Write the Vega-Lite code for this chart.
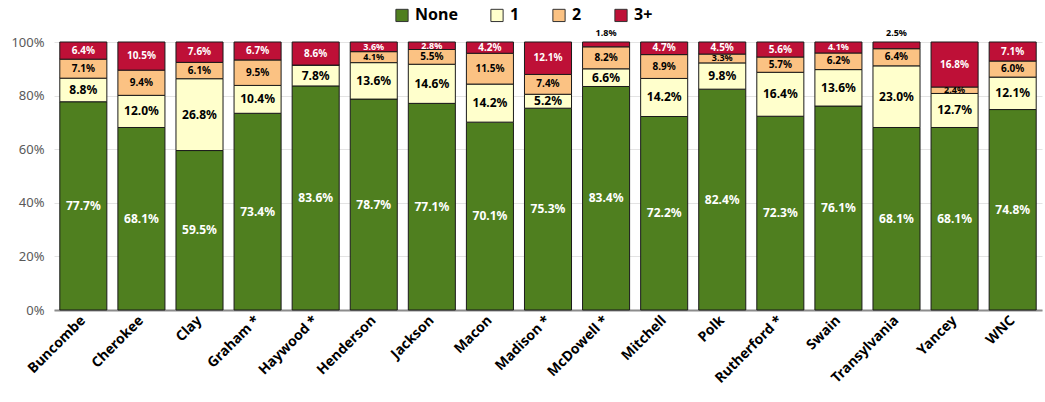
{
  "$schema": "https://vega.github.io/schema/vega-lite/v6.json",
  "autosize": "none",
  "padding": {"left": 54, "top": 42, "right": 3, "bottom": 92},
  "width": 988,
  "height": 268,
  "background": "white",
  "config": {
    "view": {"stroke": null},
    "font": "Noto Sans"
  },
  "data": {"values": [
    {"county":"Buncombe","cat":"None","pct":77.7},{"county":"Buncombe","cat":"1","pct":8.8},{"county":"Buncombe","cat":"2","pct":7.1},{"county":"Buncombe","cat":"3+","pct":6.4},
    {"county":"Cherokee","cat":"None","pct":68.1},{"county":"Cherokee","cat":"1","pct":12.0},{"county":"Cherokee","cat":"2","pct":9.4},{"county":"Cherokee","cat":"3+","pct":10.5},
    {"county":"Clay","cat":"None","pct":59.5},{"county":"Clay","cat":"1","pct":26.8},{"county":"Clay","cat":"2","pct":6.1},{"county":"Clay","cat":"3+","pct":7.6},
    {"county":"Graham *","cat":"None","pct":73.4},{"county":"Graham *","cat":"1","pct":10.4},{"county":"Graham *","cat":"2","pct":9.5},{"county":"Graham *","cat":"3+","pct":6.7},
    {"county":"Haywood *","cat":"None","pct":83.6},{"county":"Haywood *","cat":"1","pct":7.8},{"county":"Haywood *","cat":"2","pct":0},{"county":"Haywood *","cat":"3+","pct":8.6},
    {"county":"Henderson","cat":"None","pct":78.7},{"county":"Henderson","cat":"1","pct":13.6},{"county":"Henderson","cat":"2","pct":4.1},{"county":"Henderson","cat":"3+","pct":3.6},
    {"county":"Jackson","cat":"None","pct":77.1},{"county":"Jackson","cat":"1","pct":14.6},{"county":"Jackson","cat":"2","pct":5.5},{"county":"Jackson","cat":"3+","pct":2.8},
    {"county":"Macon","cat":"None","pct":70.1},{"county":"Macon","cat":"1","pct":14.2},{"county":"Macon","cat":"2","pct":11.5},{"county":"Macon","cat":"3+","pct":4.2},
    {"county":"Madison *","cat":"None","pct":75.3},{"county":"Madison *","cat":"1","pct":5.2},{"county":"Madison *","cat":"2","pct":7.4},{"county":"Madison *","cat":"3+","pct":12.1},
    {"county":"McDowell *","cat":"None","pct":83.4},{"county":"McDowell *","cat":"1","pct":6.6},{"county":"McDowell *","cat":"2","pct":8.2},{"county":"McDowell *","cat":"3+","pct":1.8},
    {"county":"Mitchell","cat":"None","pct":72.2},{"county":"Mitchell","cat":"1","pct":14.2},{"county":"Mitchell","cat":"2","pct":8.9},{"county":"Mitchell","cat":"3+","pct":4.7},
    {"county":"Polk","cat":"None","pct":82.4},{"county":"Polk","cat":"1","pct":9.8},{"county":"Polk","cat":"2","pct":3.3},{"county":"Polk","cat":"3+","pct":4.5},
    {"county":"Rutherford *","cat":"None","pct":72.3},{"county":"Rutherford *","cat":"1","pct":16.4},{"county":"Rutherford *","cat":"2","pct":5.7},{"county":"Rutherford *","cat":"3+","pct":5.6},
    {"county":"Swain","cat":"None","pct":76.1},{"county":"Swain","cat":"1","pct":13.6},{"county":"Swain","cat":"2","pct":6.2},{"county":"Swain","cat":"3+","pct":4.1},
    {"county":"Transylvania","cat":"None","pct":68.1},{"county":"Transylvania","cat":"1","pct":23.0},{"county":"Transylvania","cat":"2","pct":6.4},{"county":"Transylvania","cat":"3+","pct":2.5},
    {"county":"Yancey","cat":"None","pct":68.1},{"county":"Yancey","cat":"1","pct":12.7},{"county":"Yancey","cat":"2","pct":2.4},{"county":"Yancey","cat":"3+","pct":16.8},
    {"county":"WNC","cat":"None","pct":74.8},{"county":"WNC","cat":"1","pct":12.1},{"county":"WNC","cat":"2","pct":6.0},{"county":"WNC","cat":"3+","pct":7.1}
  ]},
  "transform": [
    {"calculate": "indexof(['None','1','2','3+'], datum.cat)", "as": "ord"},
    {"stack": "pct", "groupby": ["county"], "sort": [{"field": "ord"}], "offset": "normalize", "as": ["y0", "y1"]},
    {"calculate": "(datum.cat=='3+' && datum.pct<2.6) ? 1.034 : (datum.y0+datum.y1)/2", "as": "ly"},
    {"calculate": "format(datum.pct, '.1f') + '%'", "as": "lab"}
  ],
  "encoding": {
    "x": {
      "field": "county", "type": "nominal", "sort": null,
      "scale": {"paddingInner": 0.19, "paddingOuter": 0.1},
      "axis": {
        "title": null, "labelAngle": -45, "labelAlign": "right", "labelBaseline": "middle",
        "labelFontSize": 14, "labelFontWeight": "bold", "labelColor": "black",
        "ticks": false, "domainColor": "#8c8c8c", "domainWidth": 2, "labelPadding": 8, "grid": false
      }
    }
  },
  "layer": [
    {
      "mark": {"type": "bar", "stroke": "#1a1a1a", "strokeWidth": 1},
      "encoding": {
        "y": {
          "field": "y1", "type": "quantitative",
          "scale": {"domain": [0, 1], "nice": false},
          "axis": {
            "title": null, "values": [0, 0.2, 0.4, 0.6, 0.8, 1], "format": ".0%",
            "labelFontSize": 13, "labelColor": "#595959", "ticks": false, "domain": false,
            "gridColor": "#e3e3e3", "labelPadding": 10
          }
        },
        "y2": {"field": "y0"},
        "color": {
          "field": "cat", "type": "nominal",
          "scale": {"domain": ["None", "1", "2", "3+"], "range": ["#4F7F1F", "#FFFFCC", "#FBC283", "#BE1037"]},
          "legend": {
            "title": null, "orient": "none", "direction": "horizontal", "legendX": 340, "legendY": -35,
            "symbolType": "square", "symbolSize": 150, "symbolStrokeColor": "#333", "symbolStrokeWidth": 1,
            "labelFontSize": 16, "labelFontWeight": "bold", "labelColor": "black", "columnPadding": 30, "labelOffset": 5
          }
        }
      }
    },
    {
      "transform": [{"filter": "datum.pct > 0"}],
      "mark": {"type": "text", "fontWeight": "bold", "baseline": "middle", "align": "center"},
      "encoding": {
        "y": {"field": "ly", "type": "quantitative"},
        "text": {"field": "lab"},
        "size": {
          "condition": [
            {"test": "datum.pct < 4.2 && (datum.cat=='2' || datum.cat=='3+')", "value": 9},
            {"test": "datum.cat=='None' || datum.cat=='1'", "value": 12}
          ],
          "value": 10
        },
        "color": {
          "condition": {"test": "datum.cat=='None' || (datum.cat=='3+' && datum.pct >= 2.6)", "value": "white"},
          "value": "black"
        }
      }
    }
  ]
}
